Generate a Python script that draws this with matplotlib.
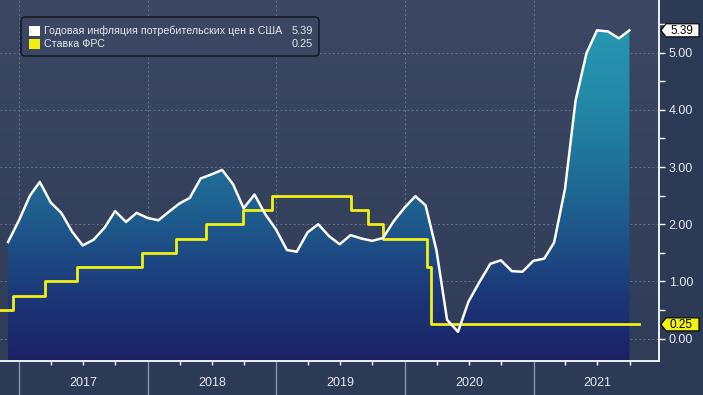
"""US CPI YoY vs Fed funds upper bound, dark terminal-style chart."""

import numpy as np
import pandas as pd
import matplotlib

matplotlib.use("Agg")
import matplotlib.pyplot as plt
import matplotlib.dates as mdates
from matplotlib.colors import LinearSegmentedColormap
from matplotlib.patches import Polygon, FancyBboxPatch, Rectangle
from matplotlib.transforms import IdentityTransform, blended_transform_factory

plt.rcParams["font.family"] = ["Liberation Sans", "DejaVu Sans"]

# --- data -----------------------------------------------------------------
cpi_first_month = "2016-11-30"
cpi_yoy = [
    1.69, 2.07,
    2.50, 2.74, 2.38, 2.20, 1.87, 1.63, 1.73, 1.94, 2.23, 2.04, 2.20, 2.11,
    2.07, 2.21, 2.36, 2.46, 2.80, 2.87, 2.95, 2.70, 2.28, 2.52, 2.18, 1.91,
    1.55, 1.52, 1.86, 2.00, 1.79, 1.65, 1.81, 1.75, 1.71, 1.76, 2.05, 2.29,
    2.49, 2.33, 1.54, 0.33, 0.12, 0.65, 0.99, 1.31, 1.37, 1.18, 1.17, 1.36,
    1.40, 1.68, 2.62, 4.16, 4.99, 5.39, 5.37, 5.25, 5.39,
]
fed_dates = [
    "2016-11-07", "2016-12-15", "2017-03-16", "2017-06-15", "2017-12-14",
    "2018-03-22", "2018-06-14", "2018-09-27", "2018-12-20", "2019-08-01",
    "2019-09-19", "2019-10-31", "2020-03-04", "2020-03-16", "2021-10-27",
]
fed_rate = [
    0.50, 0.75, 1.00, 1.25, 1.50,
    1.75, 2.00, 2.25, 2.50, 2.25,
    2.00, 1.75, 1.25, 0.25, 0.25,
]
years = [2017, 2018, 2019, 2020, 2021]
y_ticks = [0, 1, 2, 3, 4, 5]
legend_labels = ["Годовая инфляция потребительских цен в США", "Ставка ФРС"]
last_values = ["5.39", "0.25"]

# --- styling --------------------------------------------------------------
W, H = 703, 395
FIG_BG = "#2d3a55"
TEXT = "#e6e9ef"
YELLOW = "#f0f014"
GRID = "#66758f"
YMIN, YMAX = -0.39, 5.92

fig = plt.figure(figsize=(W / 100, H / 100), dpi=100, facecolor=FIG_BG)
ax = fig.add_axes([0, 34 / H, 659 / W, 361 / H])

xmin = mdates.date2num(pd.Timestamp("2016-11-07"))
xmax = mdates.date2num(pd.Timestamp("2021-12-23"))
ax.set_xlim(xmin, xmax)
ax.set_ylim(YMIN, YMAX)

# plot background gradient
bg_cmap = LinearSegmentedColormap.from_list("bg", ["#303d59", "#3b4763"])
ax.imshow(np.linspace(0, 1, 256).reshape(-1, 1), cmap=bg_cmap, origin="lower",
          extent=[xmin, xmax, YMIN, YMAX], aspect="auto", zorder=0)

cpi_dates = pd.date_range(cpi_first_month, periods=len(cpi_yoy), freq="ME")
cx = mdates.date2num(cpi_dates)
cy = np.array(cpi_yoy)

# gradient area under CPI
fill_cmap = LinearSegmentedColormap.from_list(
    "fill",
    [(0.0, "#1a2163"), (0.18, "#1c3578"), (0.46, "#1f6190"),
     (0.78, "#238aa8"), (1.0, "#2797b2")],
)
grad = ax.imshow(np.linspace(0, 1, 256).reshape(-1, 1), cmap=fill_cmap, origin="lower",
                 extent=[xmin, xmax, YMIN, 5.5], aspect="auto", zorder=1)
verts = [(cx[0], YMIN)] + list(zip(cx, cy)) + [(cx[-1], YMIN)]
clip = Polygon(verts, closed=True, transform=ax.transData, facecolor="none", edgecolor="none")
ax.add_patch(clip)
grad.set_clip_path(clip)

ax.plot(cx, cy, color="white", linewidth=1.8, zorder=4)

fx = mdates.date2num(pd.to_datetime(fed_dates))
ax.step(fx, fed_rate, where="post", color=YELLOW, linewidth=2.0, zorder=3)

# grid
for v in y_ticks:
    ax.axhline(v, color=GRID, linestyle=(0, (2, 2.5)), linewidth=0.7, zorder=0.5)
for yr in years:
    ax.axvline(mdates.date2num(pd.Timestamp(f"{yr}-01-01")), color=GRID,
               linestyle=(0, (2, 2.5)), linewidth=0.7, zorder=0.5)

# spines
for side in ("left", "top"):
    ax.spines[side].set_visible(False)
for side in ("right", "bottom"):
    ax.spines[side].set_color("white")
    ax.spines[side].set_linewidth(1.3)

# y axis on the right
ax.yaxis.tick_right()
ax.set_yticks(y_ticks)
ax.set_yticklabels([f"{v:.2f}" for v in y_ticks])
ax.set_yticks(np.arange(0.5, 5.6, 1.0), minor=True)
ax.tick_params(axis="y", which="both", length=4, width=1, color="white",
               labelcolor=TEXT, labelsize=9, pad=3)

# x axis: year separators + quarter ticks
ax.set_xticks([mdates.date2num(pd.Timestamp(f"{yr}-01-01")) for yr in years])
ax.set_xticklabels([])
ax.xaxis.set_minor_locator(mdates.MonthLocator(bymonth=[4, 7, 10]))
ax.tick_params(axis="x", which="major", length=26, width=1, color="#8b95aa")
ax.tick_params(axis="x", which="minor", length=3, width=1, color="white")
xt = blended_transform_factory(ax.transData, ax.transAxes)
for yr in years:
    mid = mdates.date2num(pd.Timestamp(f"{yr}-07-02"))
    ax.text(mid, -0.061, str(yr), transform=xt, ha="center", va="center",
            color=TEXT, fontsize=9)

# value tags on the right axis
ident = IdentityTransform()
x_spine = ax.transAxes.transform((1, 0))[0]


def draw_tag(value, label, face):
    yc = ax.transData.transform((xmin, value))[1]
    xa = x_spine + 2
    pts = [(xa, yc), (xa + 5, yc + 6.5), (xa + 38, yc + 6.5),
           (xa + 38, yc - 6.5), (xa + 5, yc - 6.5)]
    fig.add_artist(Polygon(pts, closed=True, transform=ident, facecolor=face,
                           edgecolor="black", linewidth=0.8))
    fig.text(xa + 20.5, yc - 0.5, label, transform=ident, ha="center", va="center",
             color="black", fontsize=8.5)


draw_tag(float(last_values[0]), last_values[0], "white")
draw_tag(float(last_values[1]), last_values[1], YELLOW)

# legend box
box = FancyBboxPatch((21, H - 56), 298, 39, boxstyle="round,pad=0,rounding_size=4",
                     transform=ident, facecolor="#3a4662", edgecolor="#10141f", linewidth=1.0)
fig.add_artist(box)
for i, (label, val, col) in enumerate(zip(legend_labels, last_values, ["white", YELLOW])):
    yc = H - 31 - i * 13
    fig.add_artist(Rectangle((29, yc - 5), 11, 10, transform=ident, facecolor=col,
                             edgecolor="none"))
    fig.text(44, yc, label, transform=ident, ha="left", va="center", color=TEXT, fontsize=7.7)
    fig.text(313, yc, val, transform=ident, ha="right", va="center", color=TEXT, fontsize=7.9)

fig.savefig("out.png", dpi=100, facecolor=FIG_BG)
